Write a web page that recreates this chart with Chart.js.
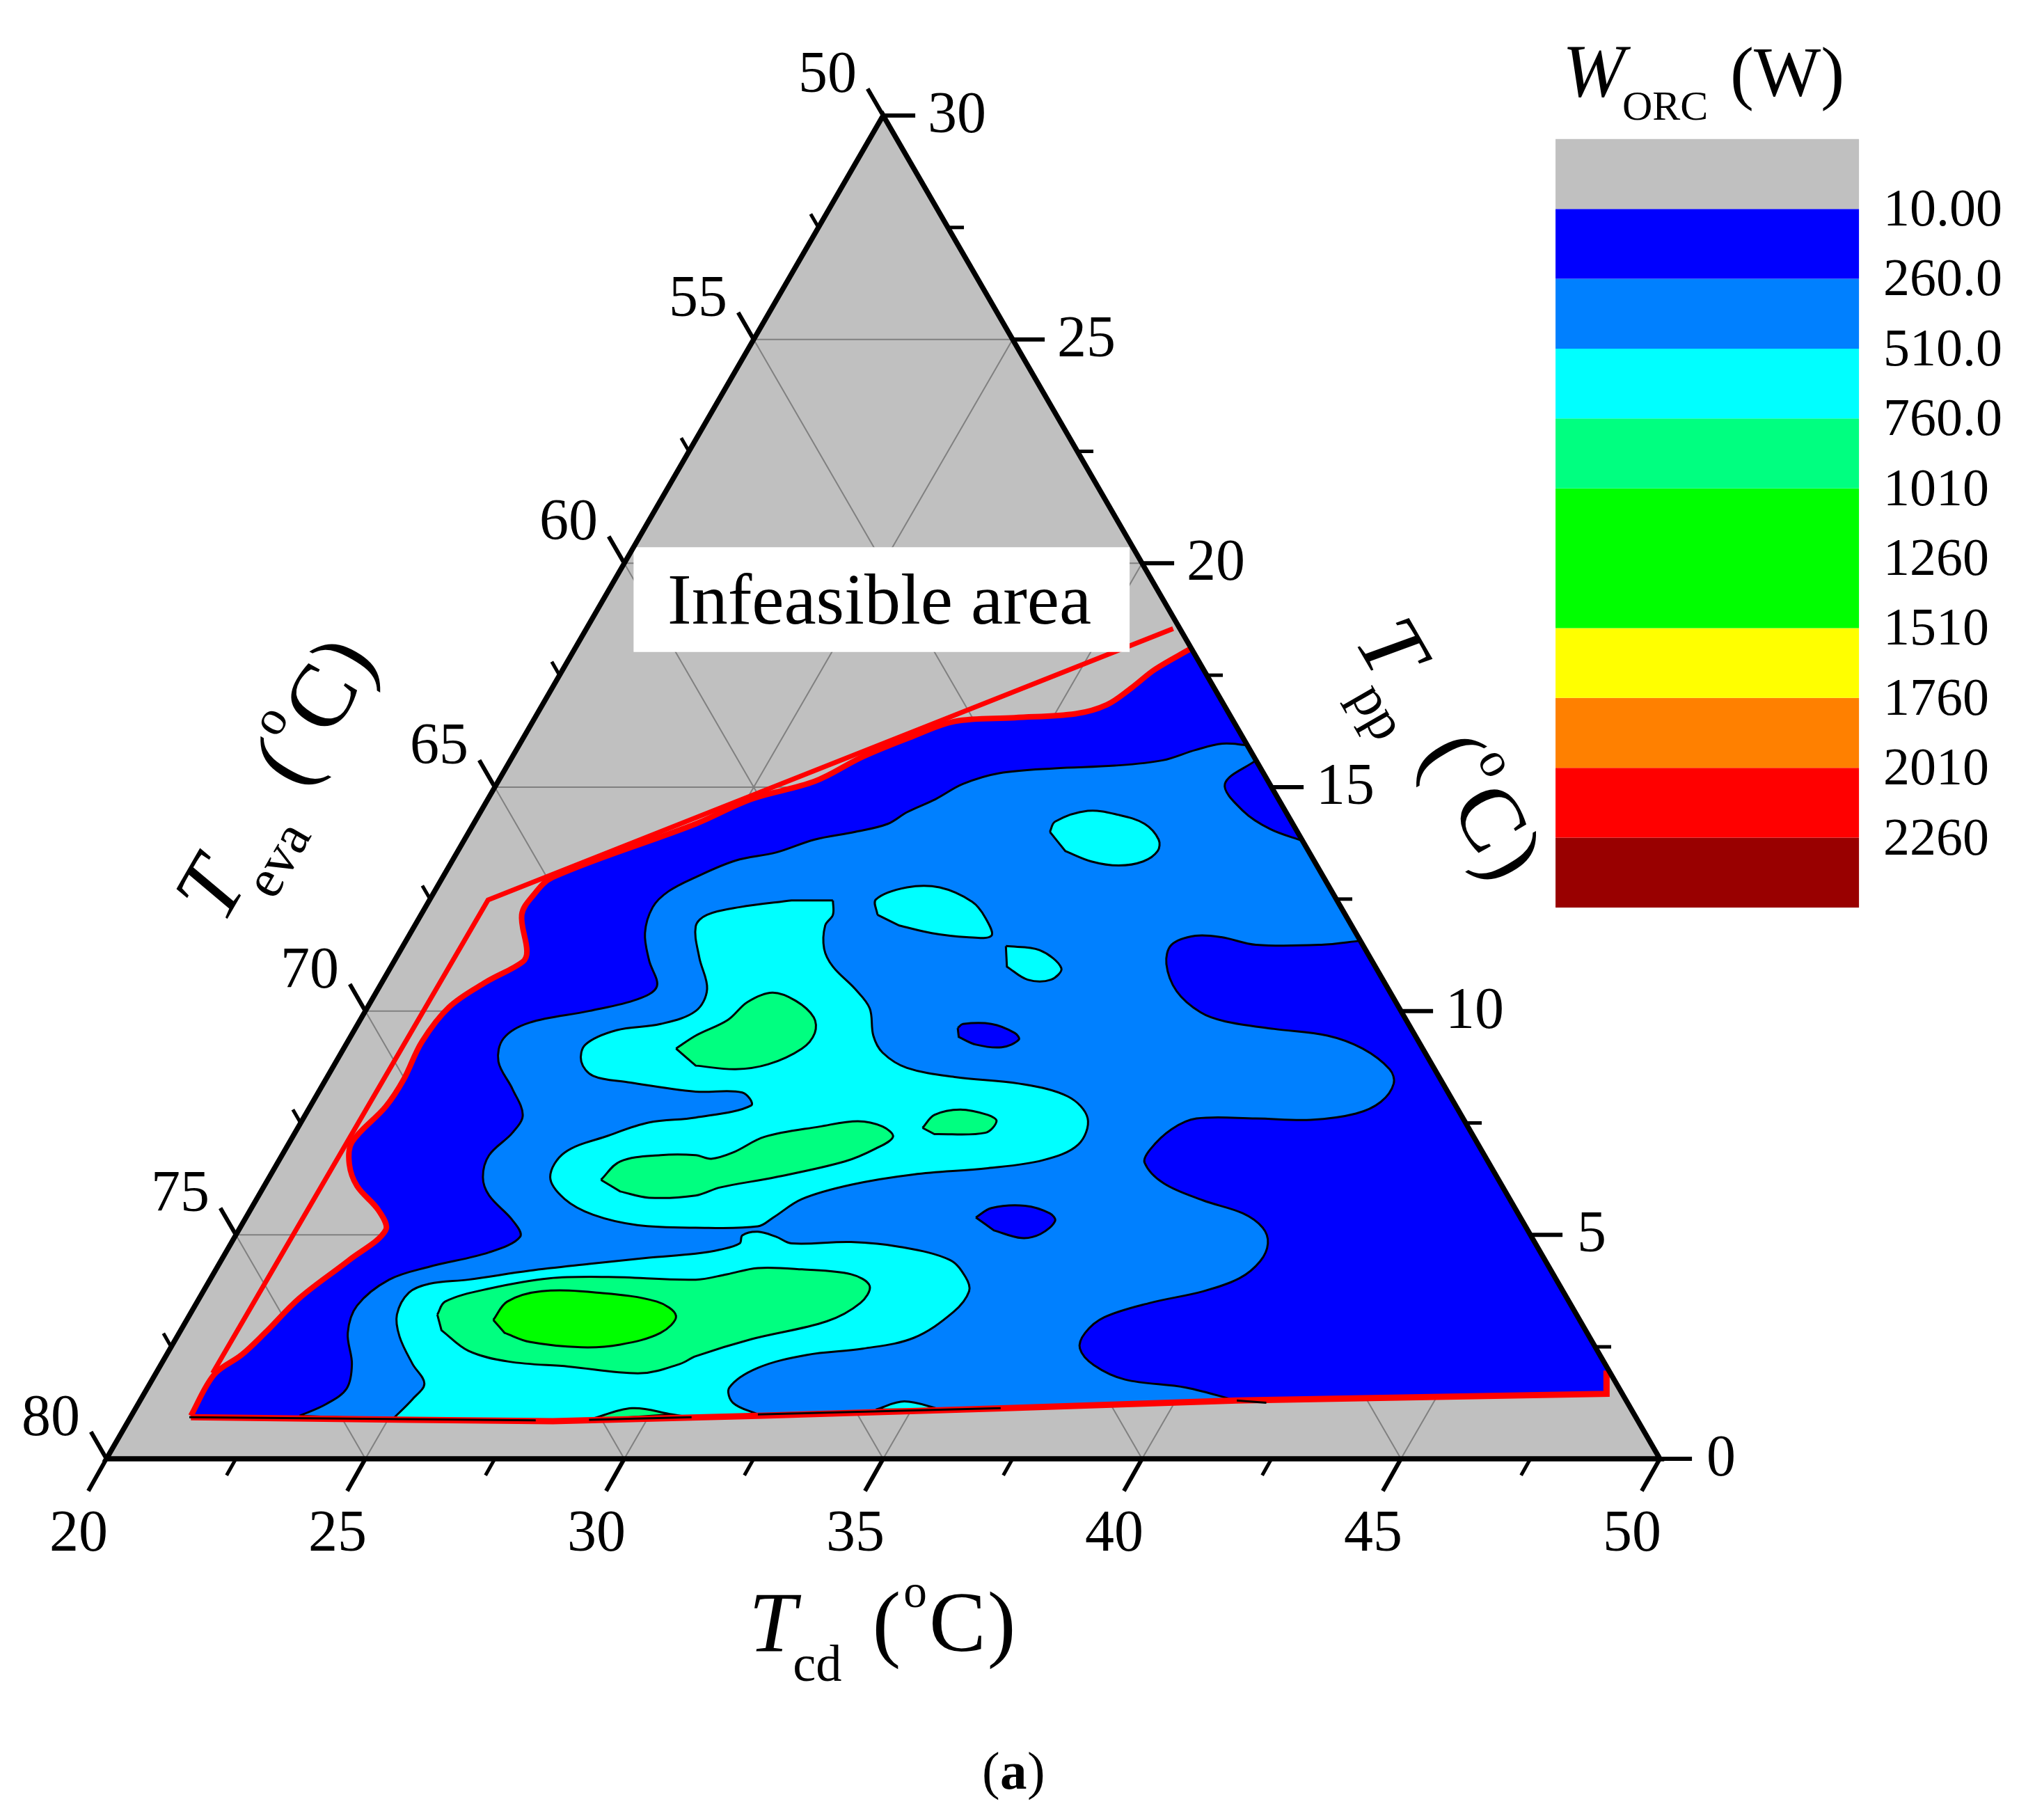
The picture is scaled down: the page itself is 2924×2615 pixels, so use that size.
<!DOCTYPE html>
<html>
<head>
<meta charset="utf-8">
<title>WORC ternary contour</title>
<script src="https://cdn.jsdelivr.net/npm/chart.js@4"></script>
<style>
  html, body { margin: 0; padding: 0; background: #fff; }
  #wrap { width: 2924px; height: 2615px; }
</style>
</head>
<body>
<div id="wrap"><canvas id="chart" width="2924" height="2615"></canvas></div>
<script>
// ===================== AXIS VALUES =====================
const tcdMajor = [20, 25, 30, 35, 40, 45, 50];
const tcdMinor = [22.5, 27.5, 32.5, 37.5, 42.5, 47.5];
const tevaMajor = [50, 55, 60, 65, 70, 75, 80];
const tevaMinor = [52.5, 57.5, 62.5, 67.5, 72.5, 77.5];
const tppMajor = [0, 5, 10, 15, 20, 25, 30];
const tppMinor = [2.5, 7.5, 12.5, 17.5, 22.5, 27.5];

// ===================== LEGEND =====================
const legendColors = ["#990000", "#FF0000", "#FF8000", "#FFFF00", "#00FF00", "#00FF00", "#00FF80", "#00FFFF", "#0080FF", "#0000FF", "#C0C0C0"];
const legendLabels = ["2260", "2010", "1760", "1510", "1260", "1010", "760.0", "510.0", "260.0", "10.00"];

// ===================== CONTOURS =====================
// every point is [position along the Tcd base, Tpp]
const feasibleEdge = [[21.63,0.96],[22.08,1.88],[22.61,2.32],[23.06,2.81],[23.73,3.59],[24.69,4.44],[25.39,5.10],[25.26,5.54],[24.84,6.09],[24.69,6.58],[24.74,7.07],[25.39,7.86],[25.74,8.47],[26.09,9.31],[26.62,10.09],[27.32,10.64],[28.04,11.10],[28.12,11.34],[28.02,12.15],[28.24,12.58],[28.62,12.99],[31.38,14.18],[32.45,14.73],[33.68,15.13],[34.61,15.68],[35.54,16.12],[36.39,16.47],[37.54,16.55],[38.72,16.64],[39.32,16.84],[39.80,17.22],[40.25,17.63],[40.95,18.10]];
const feasibleRight = [[49.01,1.97],[48.97,1.45]];
const feasibleFloor = [[48.97,1.45],[41.83,1.30],[37.39,1.13],[32.58,0.96],[28.62,0.84],[25.91,0.87],[21.63,0.96]];
const constraintFrame = [[22.05,1.91],[27.37,12.48],[40.60,18.54]];
const constraintFloor = [[48.97,1.97],[48.97,1.45],[41.83,1.30],[37.39,1.13],[32.58,0.96],[28.62,0.84],[25.91,0.87],[21.63,0.93]];
const floorContours = [
  [[21.60,0.93],[28.29,0.86]],
  [[29.32,0.87],[31.30,0.93]],
  [[32.58,0.99],[37.27,1.13]],
  [[41.83,1.30],[42.40,1.25]]
];

const azureEdge = [[23.73,0.96],[24.24,1.22],[24.64,1.57],[24.74,2.12],[24.66,2.81],[24.84,3.42],[25.46,4.00],[26.24,4.29],[27.39,4.61],[27.99,4.96],[27.84,5.33],[27.39,5.88],[27.27,6.29],[27.39,6.78],[27.84,7.28],[28.04,7.68],[27.84,8.26],[27.57,8.87],[27.67,9.39],[28.17,9.74],[29.32,10.00],[30.25,10.26],[30.63,10.55],[30.48,11.13],[30.40,11.74],[30.55,12.32],[30.85,12.67],[31.38,12.99],[32.15,13.36],[32.93,13.54],[33.68,13.83],[34.46,14.00],[35.09,14.18],[35.46,14.44],[36.01,14.73],[36.54,15.07],[37.24,15.31],[38.32,15.42],[39.47,15.48],[40.40,15.60],[41.03,15.83],[41.55,15.97],[42.03,15.94]];
const azureLobes = [[44.22,11.57],[43.46,11.48],[42.20,11.48],[41.53,11.65],[41.03,11.68],[40.57,11.48],[40.47,11.05],[40.67,10.44],[41.13,9.97],[41.60,9.77],[42.55,9.60],[43.58,9.45],[44.26,9.16],[44.78,8.70],[44.86,8.38],[44.61,7.97],[44.13,7.71],[43.26,7.57],[42.20,7.60],[41.05,7.60],[40.57,7.36],[40.15,6.90],[40.05,6.61],[40.42,6.15],[41.18,5.77],[41.95,5.48],[42.33,5.16],[42.43,4.81],[42.28,4.41],[41.88,4.03],[41.18,3.74],[40.15,3.48],[39.27,3.16],[38.90,2.81],[38.80,2.46],[39.07,2.09],[39.67,1.77],[40.85,1.59],[41.88,1.28]];
const azureFloor = [[41.88,1.28],[37.39,1.13],[32.58,0.96],[28.62,0.84],[25.91,0.87],[23.73,0.96]];

const blueIslandA = [[36.44,9.62],[36.54,9.71],[37.09,9.71],[37.54,9.51],[37.62,9.36],[37.29,9.19],[36.79,9.25],[36.46,9.42]];
const blueIslandB = [[36.79,5.39],[37.09,5.60],[37.74,5.65],[38.22,5.48],[38.32,5.31],[38.04,5.02],[37.67,4.93],[37.14,5.10]];
const blueCorner = [[42.20,15.60],[41.60,15.07],[41.95,14.47],[42.48,14.06],[43.10,13.80]];

const cyanLower = [[25.54,0.90],[25.91,1.33],[26.14,1.68],[25.91,2.12],[25.66,2.73],[25.61,3.22],[25.84,3.71],[26.24,3.91],[26.99,4.00],[28.17,4.20],[29.32,4.35],[30.48,4.49],[31.38,4.58],[31.85,4.67],[32.23,4.81],[32.28,4.99],[32.58,5.07],[32.93,4.96],[33.23,4.81],[34.38,4.84],[35.34,4.73],[36.29,4.44],[36.59,4.06],[36.66,3.74],[36.36,3.28],[35.59,2.70],[34.61,2.46],[33.53,2.32],[32.58,2.03],[32.03,1.59],[32.10,1.25],[32.58,0.99]];
const cyanLowerFloor = [[32.58,0.99],[28.62,0.84],[25.54,0.90]];
const cyanUpper = [[34.03,12.47],[34.03,12.15],[33.88,11.91],[33.86,11.39],[34.03,10.99],[34.46,10.49],[34.74,10.06],[34.81,9.45],[34.99,9.07],[35.46,8.73],[36.41,8.52],[37.62,8.38],[38.57,8.09],[38.95,7.60],[38.77,7.02],[38.09,6.67],[37.02,6.49],[35.59,6.35],[34.38,6.12],[33.43,5.80],[32.88,5.39],[32.58,5.19],[31.38,5.16],[30.25,5.22],[29.40,5.45],[28.85,5.80],[28.57,6.29],[28.85,6.84],[29.70,7.22],[30.48,7.51],[31.38,7.62],[32.45,7.89],[32.28,8.18],[31.38,8.20],[30.07,8.41],[29.40,8.55],[29.17,8.87],[29.25,9.25],[29.85,9.57],[30.70,9.71],[31.38,10.00],[31.60,10.49],[31.45,11.19],[31.38,11.89],[31.60,12.15],[32.23,12.32],[33.23,12.47]];
const cyanIslandA = [[38.22,14.00],[38.32,14.23],[38.95,14.47],[39.55,14.38],[40.05,14.18],[40.32,13.83],[40.30,13.57],[40.02,13.34],[39.55,13.25],[39.02,13.34],[38.52,13.57]];
const cyanIslandB = [[34.89,12.15],[34.86,12.49],[35.46,12.76],[36.09,12.76],[36.72,12.44],[36.97,12.09],[37.09,11.68],[36.61,11.65],[35.94,11.74],[35.31,11.91]];
const cyanIslandC = [[37.37,11.45],[38.02,11.36],[38.44,10.96],[38.24,10.70],[37.79,10.70],[37.39,10.99]];
const cyanBump = [[34.86,1.10],[35.41,1.28],[36.11,1.10]];

const mintLower = [[26.39,3.22],[26.54,3.51],[27.39,3.80],[28.55,4.03],[29.70,4.06],[31.38,4.00],[31.98,4.12],[32.58,4.26],[33.43,4.23],[34.38,4.12],[34.74,3.86],[34.56,3.48],[33.91,3.07],[32.45,2.67],[31.38,2.29],[31.08,2.12],[30.32,1.91],[28.92,2.06],[27.77,2.17],[26.99,2.41],[26.47,2.87]];
const mintTop = [[31.00,9.16],[31.38,9.45],[32.00,9.80],[32.38,10.20],[32.86,10.41],[33.31,10.23],[33.66,9.86],[33.68,9.51],[33.43,9.16],[32.78,8.81],[32.15,8.70],[31.38,8.78]];
const mintMiddle = [[29.55,6.23],[29.92,6.64],[30.70,6.78],[31.38,6.78],[31.68,6.70],[32.10,6.84],[32.71,7.19],[33.78,7.42],[34.51,7.54],[34.99,7.42],[35.19,7.19],[34.86,6.93],[34.26,6.64],[32.93,6.29],[31.85,6.06],[31.38,5.88],[30.48,5.83],[29.92,5.97]];
const mintSmall = [[35.76,7.39],[35.99,7.68],[36.49,7.80],[37.02,7.68],[37.19,7.54],[36.97,7.28],[35.99,7.25]];
const mintBump = [[29.32,0.87],[30.15,1.13],[30.93,0.99]];
const greenCore = [[27.47,3.10],[27.74,3.51],[28.40,3.74],[29.47,3.71],[30.63,3.51],[31.00,3.19],[30.70,2.81],[29.92,2.55],[29.17,2.49],[28.17,2.61],[27.69,2.81]];

const infeasibleBox = [[30.18,18.02],[39.76,18.02],[39.76,20.36],[30.18,20.36],[30.18,18.02]];

// ===================== HELPERS =====================
const BLUE = "#0000FF", AZURE = "#0080FF", CYAN = "#00FFFF", MINT = "#00FF80", GREEN = "#00FF00";
const SERIF = '"Liberation Serif", "Times New Roman", serif';

const toPoints = list => list.map(([x, y]) => ({ x, y }));

// hard corners between the parts, smooth inside a part
function shape(...parts) {
  const pts = [];
  parts.forEach(p => {
    pts.push(p[0], ...p, p[p.length - 1]);
  });
  pts.push(pts[0]);
  return toPoints(pts);
}

const datasets = [];
function add(data, style) {
  datasets.push({
    data,
    showLine: true,
    pointRadius: 0,
    borderWidth: 0,
    tension: 0,
    xAxisID: "x",
    yAxisID: "y",
    ...style
  });
}
const region = (color, ...parts) =>
  add(shape(...parts), { fill: "shape", backgroundColor: color, borderColor: "#000", borderWidth: 3, tension: 0.35 });
const plainRegion = (color, ...parts) =>
  add(shape(...parts), { fill: "shape", backgroundColor: color, tension: 0.35 });
const segment = (a, b, color, width) =>
  add(toPoints([a, b]), { borderColor: color, borderWidth: width, borderCapStyle: "butt" });

// ternary positions
const leftEdge = teva => [20 + (80 - teva) / 2, 80 - teva];
const rightEdge = tpp => [50 - tpp / 2, tpp];

// ===================== DATASETS, BOTTOM TO TOP =====================
add(toPoints([[20, 0], [50, 0], [35, 30], [20, 0]]), { fill: "shape", backgroundColor: "#C0C0C0" });

tcdMajor.slice(1, -1).forEach(v => segment([v, 0], rightEdge(50 - v), "#808080", 2));
tevaMajor.slice(1, -1).forEach(v => segment(leftEdge(v), [100 - v, 0], "#808080", 2));
tppMajor.slice(1, -1).forEach(v => segment(leftEdge(80 - v), rightEdge(v), "#808080", 2));

plainRegion(BLUE, feasibleEdge, feasibleRight, feasibleFloor);
region(AZURE, azureEdge, azureLobes, azureFloor);
region(BLUE, blueIslandA);
region(BLUE, blueIslandB);
region(BLUE, blueCorner);
region(CYAN, cyanLower, cyanLowerFloor);
region(CYAN, cyanUpper);
region(CYAN, cyanIslandA);
region(CYAN, cyanIslandB);
region(CYAN, cyanIslandC);
region(CYAN, cyanBump);
region(MINT, mintLower);
region(MINT, mintTop);
region(MINT, mintMiddle);
region(MINT, mintSmall);
region(MINT, mintBump);
region(GREEN, greenCore);

add(toPoints(feasibleEdge), { borderColor: "#FF0000", borderWidth: 8, tension: 0.35 });
add(toPoints(constraintFrame), { borderColor: "#FF0000", borderWidth: 7, borderJoinStyle: "miter" });
add(toPoints(constraintFloor), { borderColor: "#FF0000", borderWidth: 9, borderJoinStyle: "miter" });
floorContours.forEach(piece => add(toPoints(piece), { borderColor: "#000", borderWidth: 3 }));

add(toPoints(infeasibleBox), { fill: "shape", backgroundColor: "#FFFFFF" });

// axes and ticks
tcdMajor.forEach(v => segment([v, 0], [v - 0.35, -0.72], "#000", 6));
tcdMinor.forEach(v => segment([v, 0], [v - 0.18, -0.37], "#000", 5));
tevaMajor.forEach(v => { const [x, y] = leftEdge(v); segment([x, y], [x - 0.3, y + 0.6], "#000", 6); });
tevaMinor.forEach(v => { const [x, y] = leftEdge(v); segment([x, y], [x - 0.15, y + 0.3], "#000", 5); });
tppMajor.forEach(v => { const [x, y] = rightEdge(v); segment([x, y], [x + 0.62, y], "#000", 6); });
tppMinor.forEach(v => { const [x, y] = rightEdge(v); segment([x, y], [x + 0.31, y], "#000", 5); });
add(toPoints([[20, 0], [50, 0], [35, 30], [20, 0], [50, 0]]), { borderColor: "#000", borderWidth: 7.5, borderJoinStyle: "miter" });

// legend bands, on their own scales
legendColors.forEach((color, i) => {
  add(toPoints([[0, i], [1, i], [1, i + 1], [0, i + 1], [0, i]]), {
    fill: "shape", backgroundColor: color, xAxisID: "legendX", yAxisID: "legendY"
  });
});

// later in the list = drawn later
datasets.forEach((d, i) => { d.order = datasets.length - i; });

// ===================== TEXT =====================
function run(ctx, x, y, angle, parts, zoom = 1) {
  ctx.save();
  ctx.translate(x, y);
  ctx.rotate(angle * Math.PI / 180);
  ctx.scale(zoom, zoom);
  ctx.textAlign = "left";
  ctx.textBaseline = "alphabetic";
  ctx.fillStyle = "#000";
  parts.forEach(([text, dx, dy, font]) => {
    ctx.font = `${font} ${SERIF}`;
    ctx.fillText(text, dx, dy);
  });
  ctx.restore();
}

function axisTitle(sub, subWidth) {
  const p = 60 + subWidth + 42;
  return [
    ["T", 0, 0, "italic 120px"],
    [sub, 62, 42, "73px"],
    ["(", p, 0, "120px"],
    ["o", p + 44, -62, "66px"],
    ["C", p + 80, 0, "120px"],
    [")", p + 162, 0, "120px"]
  ];
}

const textPlugin = {
  id: "textPlugin",
  afterDatasetsDraw(chart) {
    const { ctx, scales } = chart;
    const px = v => scales.x.getPixelForValue(v);
    const py = v => scales.y.getPixelForValue(v);
    ctx.save();
    ctx.fillStyle = "#000";
    ctx.textAlign = "center";
    ctx.textBaseline = "middle";
    ctx.font = `84px ${SERIF}`;

    tcdMajor.forEach(v => ctx.fillText(String(v), px(v) - 40, py(0) + 110));
    tevaMajor.forEach(v => {
      const [x, y] = leftEdge(v);
      ctx.fillText(String(v), px(x) - 80, py(y) - 56);
    });
    tppMajor.forEach(v => {
      const [x, y] = rightEdge(v);
      ctx.fillText(String(v), px(x) + (v < 10 ? 88 : 106), py(y) + 2);
    });

    ctx.textAlign = "left";
    ctx.font = `76px ${SERIF}`;
    legendLabels.forEach((label, i) => {
      ctx.fillText(label, 2706, scales.legendY.getPixelForValue(i + 1) + 4);
    });
    ctx.textBaseline = "alphabetic";
    ctx.font = `104px ${SERIF}`;
    ctx.fillText("Infeasible area", 959, 896);
    ctx.restore();

    run(ctx, 2245, 138, 0, [
      ["W", 0, 0, "italic 108px"],
      ["ORC", 86, 34, "60px"],
      ["(W)", 241, 0, "102px"]
    ]);
    run(ctx, 1076, 2372, 0, axisTitle("cd", 72), 1.02);
    run(ctx, 321, 1330, -60, axisTitle("eva", 105), 1.08);
    run(ctx, 1945, 920, 60, axisTitle("pp", 73), 1.08);
    run(ctx, 1411, 2570, 0, [
      ["(", 0, 0, "77px"],
      ["a", 26, 0, "bold 77px"],
      [")", 65, 0, "77px"]
    ]);
  }
};

// ===================== CHART =====================
new Chart(document.getElementById("chart").getContext("2d"), {
  type: "scatter",
  data: { datasets },
  options: {
    responsive: false,
    animation: false,
    events: [],
    layout: { padding: 0 },
    plugins: { legend: { display: false }, tooltip: { enabled: false } },
    scales: {
      x: { type: "linear", display: false, min: 17.944, max: 57.245 },
      y: { type: "linear", display: false, min: -8.068, max: 32.58 },
      legendX: { type: "linear", axis: "x", display: false, min: -5.126, max: 1.58 },
      legendY: { type: "linear", axis: "y", display: false, min: -13.06, max: 12.99 }
    }
  },
  plugins: [textPlugin]
});
</script>
</body>
</html>
